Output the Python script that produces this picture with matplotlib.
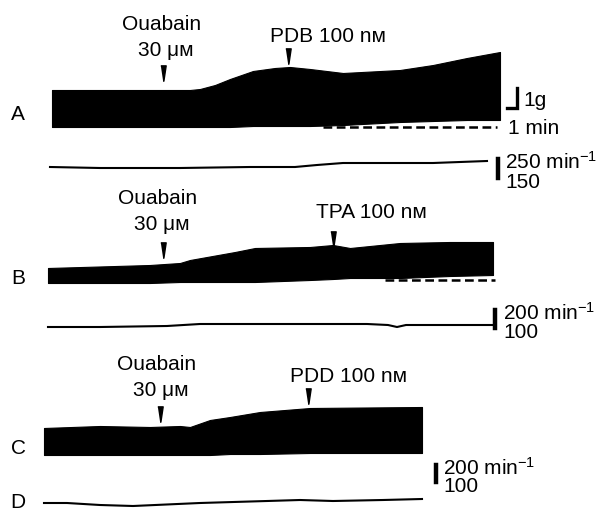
import matplotlib.pyplot as plt

plt.rcParams['font.family'] = ['Liberation Sans', 'DejaVu Sans']
plt.rcParams['mathtext.default'] = 'regular'

# trace A (tension), x in px along the recording, y top / bottom envelope
a_t = [52, 120, 190, 200, 215, 230, 253, 275, 290, 310, 343, 400, 433, 467, 500]
a_top = [90, 90, 90, 89, 85, 79, 71, 68, 67, 69, 73, 70, 65, 58, 52]
a_bot = [127, 127, 127, 127, 127, 127, 126, 126, 126, 126, 125, 122, 121, 120, 120]
a_rate_t = [50, 100, 180, 250, 295, 317, 343, 433, 487]
a_rate = [167, 168, 168, 167, 167, 165, 163, 163, 161]

# trace B
b_t = [48, 150, 180, 190, 235, 255, 310, 333, 350, 400, 450, 493]
b_top = [268, 265, 263, 260, 252, 248, 247, 245, 248, 243, 242, 242]
b_bot = [283, 283, 282, 282, 282, 282, 280, 279, 278, 278, 276, 275]
b_rate_t = [48, 100, 167, 200, 250, 310, 367, 388, 397, 406, 450, 493]
b_rate = [327, 327, 326, 324, 324, 324, 324, 325, 327, 325, 325, 325]

# trace C
c_t = [44, 100, 150, 180, 190, 210, 230, 260, 310, 422]
c_top = [428, 426, 427, 426, 427, 420, 417, 412, 408, 407]
c_bot = [455, 455, 455, 455, 455, 455, 454, 454, 453, 453]
d_rate_t = [44, 67, 100, 133, 200, 267, 300, 333, 383, 422]
d_rate = [503, 503, 505, 506, 503, 501, 500, 501, 500, 499]

dashes_A = (323, 497, 127)
dashes_B = (385, 495, 280)

fig = plt.figure(figsize=(6.09, 5.11), dpi=100)
ax = fig.add_axes([0, 0, 1, 1])
ax.set_xlim(0, 609)
ax.set_ylim(511, 0)
ax.axis('off')

for t, top, bot in [(a_t, a_top, a_bot), (b_t, b_top, b_bot), (c_t, c_top, c_bot)]:
    ax.fill_between(t, top, bot, color='black', lw=0.8, edgecolor='black')

for t, r in [(a_rate_t, a_rate), (b_rate_t, b_rate), (d_rate_t, d_rate)]:
    ax.plot(t, r, color='black', lw=1.5)

for x0, x1, y in [dashes_A, dashes_B]:
    ax.plot([x0, x1], [y, y], color='black', lw=1.8, dashes=(3.5, 1.8))

fs = 15


def marker(x, y):
    ax.plot([x], [y], marker=[(-0.35, 1), (0.35, 1), (0.05, -1), (-0.05, -1)],
            ms=11, color='black', mec='black')


# drug annotations
ouabain = [(162, 25, 50, 163, 73), (158, 198, 225, 163, 250), (157, 365, 390, 160, 414)]
for cx, y1, y2, ax_x, ay in ouabain:
    ax.text(cx, y1, 'Ouabain', fontsize=fs, ha='center', va='center')
    ax.text(cx + 4, y2, '30 μᴍ', fontsize=fs, ha='center', va='center')
    marker(ax_x, ay)

drugs = [('PDB 100 nᴍ', 270, 37, 288, 56), ('TPA 100 nᴍ', 316, 212, 333, 239),
         ('PDD 100 nᴍ', 290, 377, 308, 396)]
for lab, x, y, mx, my in drugs:
    ax.text(x, y, lab, fontsize=fs, ha='left', va='center')
    marker(mx, my)

for lab, y in [('A', 115), ('B', 279), ('C', 448), ('D', 503)]:
    ax.text(18, y, lab, fontsize=fs, ha='center', va='center')

# scale bars
ax.plot([507, 517, 517], [108, 108, 88], color='black', lw=2.4, solid_joinstyle='miter')
ax.text(523, 100, '1g', fontsize=fs, ha='left', va='center')
ax.text(508, 128, '1 min', fontsize=fs, ha='left', va='center')

rate_bars = [(498, 159, 178, '250', '150', 502), (495, 310, 328, '200', '100', 500),
             (436, 465, 482, '200', '100', 440)]
for x, y0, y1, hi, lo, tx in rate_bars:
    ax.plot([x, x], [y0, y1], color='black', lw=3.2)
    ax.text(tx + 3, y0 + 3, hi + ' min$^{-1}$', fontsize=fs, ha='left', va='center')
    ax.text(tx + 3, y1 + 5, lo, fontsize=fs, ha='left', va='center')

fig.savefig('out.png', dpi=100)
